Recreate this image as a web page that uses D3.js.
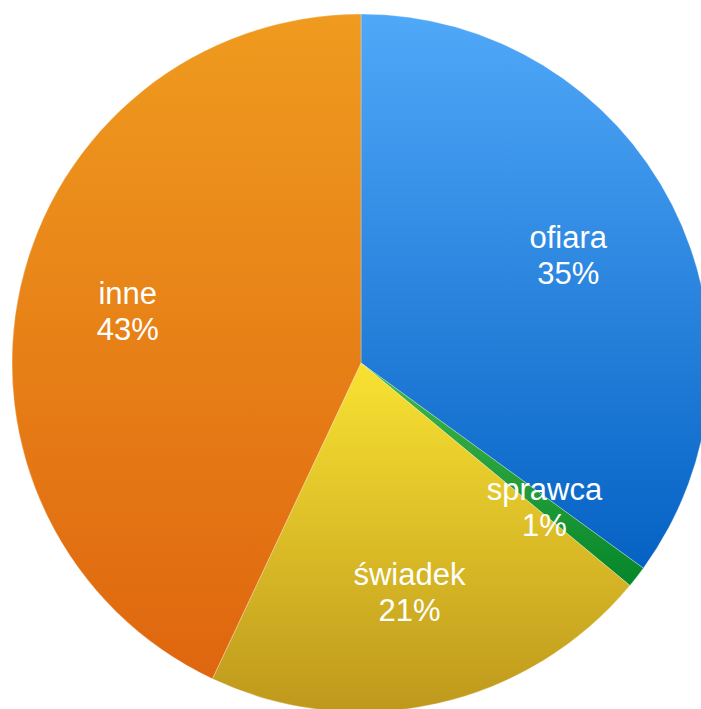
<!DOCTYPE html>
<html>
<head>
<meta charset="utf-8">
<script src="https://cdn.jsdelivr.net/npm/d3@7"></script>
<style>
  html, body { margin: 0; padding: 0; background: #ffffff; }
  svg { display: block; }
</style>
</head>
<body>
<svg id="chart" width="701" height="709"></svg>
<script>
// Share of roles (percent), clockwise from 12 o'clock
const categories = ["ofiara", "sprawca", "świadek", "inne"];
const values = [35, 1, 21, 43];
const labels = ["35%", "1%", "21%", "43%"];
// top / bottom colours of each slice's vertical gradient
const colorsTop = ["#50a8f8", "#44b84c", "#f9e232", "#ef9b1f"];
const colorsBottom = ["#0562c4", "#05862a", "#be981c", "#df660f"];

const svg = d3.select("#chart");
const cx = 361, cy = 363, radius = 349;

const defs = svg.append("defs");
categories.forEach((c, i) => {
  const g = defs.append("linearGradient")
    .attr("id", "grad" + i)
    .attr("x1", 0).attr("y1", 0).attr("x2", 0).attr("y2", 1);
  g.append("stop").attr("offset", "0%").attr("stop-color", colorsTop[i]);
  g.append("stop").attr("offset", "100%").attr("stop-color", colorsBottom[i]);
});

const data = categories.map((c, i) => ({ name: c, value: values[i], label: labels[i], i }));

const pie = d3.pie().sort(null).value(d => d.value);
const arcs = pie(data);

const arc = d3.arc().innerRadius(0).outerRadius(radius);
const labelArc = d3.arc().innerRadius(236).outerRadius(236);

const g = svg.append("g").attr("transform", `translate(${cx},${cy})`);

g.selectAll("path.slice")
  .data(arcs)
  .join("path")
  .attr("class", "slice")
  .attr("d", arc)
  .attr("fill", d => `url(#grad${d.data.i})`)
  .attr("stroke", "rgba(255,255,255,0.35)")
  .attr("stroke-width", 0.8);

const lab = g.selectAll("g.label")
  .data(arcs)
  .join("g")
  .attr("class", "label")
  .attr("transform", d => {
    const [x, y] = labelArc.centroid(d);
    return `translate(${x - 3},${y})`;
  });

lab.append("text")
  .attr("text-anchor", "middle")
  .attr("y", -8)
  .attr("fill", "#ffffff")
  .attr("font-family", "Liberation Sans, Arial, Helvetica, sans-serif")
  .attr("font-size", 31)
  .text(d => d.data.name);

lab.append("text")
  .attr("text-anchor", "middle")
  .attr("y", 28)
  .attr("fill", "#ffffff")
  .attr("font-family", "Liberation Sans, Arial, Helvetica, sans-serif")
  .attr("font-size", 31)
  .text(d => d.data.label);
</script>
</body>
</html>
